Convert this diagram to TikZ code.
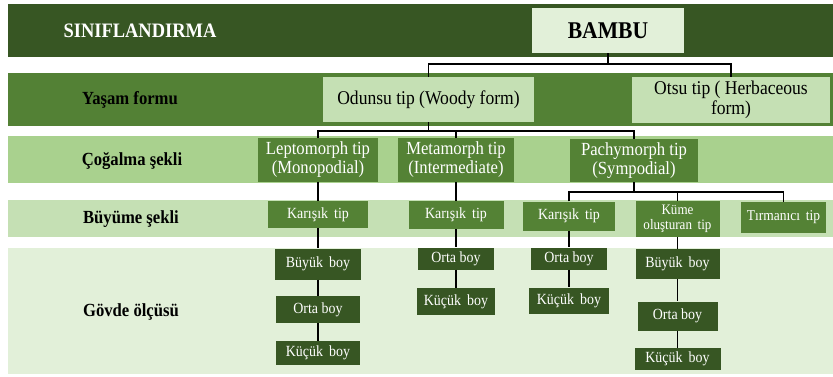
\documentclass[tikz,border=0pt]{standalone}
\usepackage{fontspec}
\setmainfont{Liberation Serif}[FakeStretch=0.9]
\definecolor{dk}{HTML}{375623}
\definecolor{md}{HTML}{548235}
\definecolor{bandtwo}{HTML}{538135}
\definecolor{ltthree}{HTML}{A9D18E}
\definecolor{ltfour}{HTML}{C5E0B4}
\definecolor{ltfive}{HTML}{E2F0D9}
\begin{document}
\begin{tikzpicture}[x=1pt,y=-1pt,
  box/.style={rectangle,inner sep=0pt,align=center},
  palebox/.style={box,fill=ltfive,text=black},
  lightbox/.style={box,fill=ltfour,text=black,font=\fontsize{19.5}{20}\selectfont},
  midbox/.style={box,fill=md,text=white,font=\fontsize{18.5}{19}\selectfont},
  smallbox/.style={box,fill=md,text=white,font=\fontsize{15.5}{16}\selectfont},
  darkbox/.style={box,fill=dk,text=white,font=\fontsize{15.5}{16}\selectfont},
  lab/.style={align=center,font=\bfseries\fontsize{18.5}{20}\selectfont},
  conn/.style={draw=black,line width=1.4pt}]
\useasboundingbox (0,0) rectangle (833,376);
% bands
\fill[dk] (8,4) rectangle (833,57);
\fill[bandtwo] (8,73) rectangle (833,126);
\fill[ltthree] (8,136) rectangle (833,183);
\fill[ltfour] (8,200) rectangle (833,237);
\fill[ltfive] (8,248) rectangle (833,374);
% row labels
\node[lab,text=white,font=\bfseries\fontsize{20.5}{21}\selectfont] (l1) at (140,31) {SINIFLANDIRMA};
\node[lab] (l2) at (130,100) {Yaşam formu};
\node[lab] (l3) at (132,161) {Çoğalma şekli};
\node[lab] (l4) at (131,219) {Büyüme şekli};
\node[lab] (l5) at (131,312) {Gövde ölçüsü};
% tree nodes
\node[palebox,minimum width=152pt,minimum height=45pt,font=\bfseries\fontsize{24}{26}\selectfont] (bambu) at (608,30.5) {BAMBU};
\node[lightbox,minimum width=211pt,minimum height=45pt] (odunsu) at (428.5,99.5) {Odunsu tip (Woody form)};
\node[lightbox,minimum width=198pt,minimum height=46pt] (otsu) at (731,100) {Otsu tip ( Herbaceous\\form)};
\node[midbox,minimum width=120pt,minimum height=44pt] (lepto) at (318,160) {Leptomorph tip\\(Monopodial)};
\node[midbox,minimum width=116pt,minimum height=44pt] (meta) at (456,160) {Metamorph tip\\(Intermediate)};
\node[midbox,minimum width=128pt,minimum height=43pt] (pachy) at (634,160.5) {Pachymorph tip\\(Sympodial)};
\node[smallbox,minimum width=100pt,minimum height=27pt] (kar1) at (318,214.5) {Karışık\, tip};
\node[smallbox,minimum width=95pt,minimum height=28pt] (kar2) at (456,215) {Karışık\, tip};
\node[smallbox,minimum width=92pt,minimum height=29pt] (kar3) at (569,216) {Karışık\, tip};
\node[smallbox,minimum width=84pt,minimum height=36pt,font=\fontsize{14.5}{15}\selectfont] (kume) at (677.5,219) {Küme\\oluşturan\, tip};
\node[smallbox,minimum width=85pt,minimum height=31pt,font=\fontsize{15}{16}\selectfont] (tirm) at (783.5,217.5) {Tırmanıcı\, tip};
% stem size column 1
\node[darkbox,minimum width=86pt,minimum height=31pt] (b1) at (318,264) {Büyük\, boy};
\node[darkbox,minimum width=84pt,minimum height=27pt] (o1) at (318,309.5) {Orta boy};
\node[darkbox,minimum width=84pt,minimum height=24pt] (k1) at (318,353) {Küçük\, boy};
% column 2
\node[darkbox,minimum width=76pt,minimum height=22pt] (o2) at (456,258.5) {Orta boy};
\node[darkbox,minimum width=78pt,minimum height=27pt] (k2) at (456,301.5) {Küçük\, boy};
% column 3
\node[darkbox,minimum width=76pt,minimum height=22pt] (o3) at (569,258.5) {Orta boy};
\node[darkbox,minimum width=80pt,minimum height=26pt] (k3) at (569,300.5) {Küçük\, boy};
% column 4
\node[darkbox,minimum width=84pt,minimum height=30pt] (b4) at (677.5,264) {Büyük\, boy};
\node[darkbox,minimum width=80pt,minimum height=29pt] (o4) at (677.5,316) {Orta boy};
\node[darkbox,minimum width=86pt,minimum height=22pt] (k4) at (677.5,359) {Küçük\, boy};
% junctions
\coordinate (h1) at (608,64);
\coordinate (h2) at (428.5,131);
\coordinate (h3) at (634,192);
% connectors
\draw[conn] (bambu.south) -- (h1);
\draw[conn] (odunsu.north) |- (h1) -| (otsu.north);
\draw[conn] (odunsu.south) -- (h2);
\draw[conn] (lepto.north) |- (h2) -| (pachy.north);
\draw[conn] (meta.north) -- (meta.north |- h2);
\draw[conn] (pachy.south) -- (h3);
\draw[conn] (kar3.north) |- (h3) -| (tirm.north);
\draw[conn] (kume.north) -- (kume.north |- h3);
\draw[conn] (lepto.south) -- (kar1.north);
\draw[conn] (meta.south) -- (kar2.north);
\draw[conn] (kar1.south) -- (b1.north);
\draw[conn] (b1.south) -- (o1.north);
\draw[conn] (o1.south) -- (k1.north);
\draw[conn] (kar2.south) -- (o2.north);
\draw[conn] (o2.south) -- (k2.north);
\draw[conn] (kar3.south) -- (o3.north);
\draw[conn] (o3.south) -- (k3.north);
\draw[conn] (kume.south) -- (b4.north);
\draw[conn] (b4.south) -- (o4.north);
\draw[conn] (o4.south) -- (k4.north);
\end{tikzpicture}
\end{document}
